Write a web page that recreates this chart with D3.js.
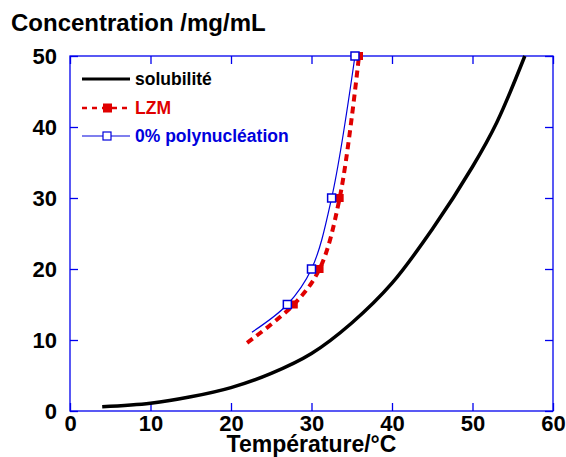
<!DOCTYPE html>
<html><head><meta charset="utf-8">
<script src="https://cdn.jsdelivr.net/npm/d3@7"></script>
<style>body{margin:0;background:#fff}svg{display:block}text{font-family:"Liberation Sans",Arial,sans-serif;font-weight:bold}</style>
</head><body><svg id="c" width="566" height="457"></svg>
<script>
// Data
const solTemp = [4, 10, 15, 20, 25, 30, 35, 40, 45, 50, 53, 56.5];
const solConc = [0.6, 1.1, 2.0, 3.3, 5.3, 8.1, 12.4, 18.0, 25.6, 34.4, 40.6, 50];
const lzmCurveTemp = [22.0, 27.8, 31.0, 33.5, 35.9];
const lzmCurveConc = [9.6, 15, 20, 30, 50];
const lzmTemp = [27.8, 31.0, 33.5, 35.9];
const lzmConc = [15, 20, 30, 50];
const polyCurveTemp = [22.6, 27.0, 30.0, 32.5, 35.4];
const polyCurveConc = [11.1, 15, 20, 30, 50];
const polyTemp = [27.0, 30.0, 32.5, 35.4];
const polyConc = [15, 20, 30, 50];
const xTicks = [0, 10, 20, 30, 40, 50, 60];
const yTicks = [0, 10, 20, 30, 40, 50];
const legendLabels = ["solubilité", "LZM", "0% polynucléation"];

const svg = d3.select("#c");
const x = d3.scaleLinear().domain([0, 60]).range([70, 553]);
const y = d3.scaleLinear().domain([0, 50]).range([411, 56]);
const axisColor = "#0000ee";
const red = "#e00000", blue = "#0000dd";

// frame
svg.append("rect").attr("x", x(0)).attr("y", y(50)).attr("width", x(60) - x(0)).attr("height", y(0) - y(50))
  .attr("fill", "none").attr("stroke", axisColor).attr("stroke-width", 1.3);

// axes (inward ticks, on all four sides)
const tl = 8;
const gB = svg.append("g").attr("transform", `translate(0,${y(0)})`)
  .call(d3.axisBottom(x).tickValues(xTicks).tickSizeInner(-tl).tickSizeOuter(0).tickPadding(4).tickFormat(d3.format("d")));
const gT = svg.append("g").attr("transform", `translate(0,${y(50)})`)
  .call(d3.axisTop(x).tickValues(xTicks).tickSizeInner(-tl).tickSizeOuter(0).tickFormat(""));
const gL = svg.append("g").attr("transform", `translate(${x(0)},0)`)
  .call(d3.axisLeft(y).tickValues(yTicks).tickSizeInner(-tl).tickSizeOuter(0).tickPadding(13).tickFormat(d3.format("d")));
const gR = svg.append("g").attr("transform", `translate(${x(60)},0)`)
  .call(d3.axisRight(y).tickValues(yTicks).tickSizeInner(-tl).tickSizeOuter(0).tickFormat(""));
[gB, gT, gL, gR].forEach(g => {
  g.select(".domain").remove();
  g.selectAll(".tick line").attr("stroke", axisColor).attr("stroke-width", 1.3);
  g.selectAll("text").attr("fill", "#000").style("font-size", "22px").style("font-family", '"Liberation Sans",Arial,sans-serif').style("font-weight", "bold");
});
gL.selectAll(".tick text").attr("dy", "0.34em");

// lines
const line = d3.line().x(d => x(d[0])).y(d => y(d[1]));
const sol = solTemp.map((t, i) => [t, solConc[i]]);
const lzmC = lzmCurveTemp.map((t, i) => [t, lzmCurveConc[i]]);
const polyC = polyCurveTemp.map((t, i) => [t, polyCurveConc[i]]);

svg.append("path").attr("d", line.curve(d3.curveCatmullRom.alpha(0.5))(sol))
  .attr("fill", "none").attr("stroke", "#000").attr("stroke-width", 3.5);
svg.append("path").attr("d", line.curve(d3.curveCatmullRom.alpha(0.5))(lzmC))
  .attr("fill", "none").attr("stroke", red).attr("stroke-width", 4).attr("stroke-dasharray", "7,5");
const ms = 8;
svg.selectAll(".lzm").data(lzmTemp.map((t, i) => [t, lzmConc[i]])).enter().append("rect")
  .attr("x", d => x(d[0]) - ms / 2).attr("y", d => y(d[1]) - ms / 2).attr("width", ms).attr("height", ms).attr("fill", red);
svg.append("path").attr("d", line.curve(d3.curveCatmullRom.alpha(0.5))(polyC))
  .attr("fill", "none").attr("stroke", blue).attr("stroke-width", 1.2);
svg.selectAll(".poly").data(polyTemp.map((t, i) => [t, polyConc[i]])).enter().append("rect")
  .attr("x", d => x(d[0]) - ms / 2).attr("y", d => y(d[1]) - ms / 2).attr("width", ms).attr("height", ms)
  .attr("fill", "#fff").attr("stroke", blue).attr("stroke-width", 1.5);

// legend
const lg = svg.append("g");
const lx0 = 82, lx1 = 130, ly = [79, 108, 136];
lg.append("line").attr("x1", lx0).attr("x2", lx1).attr("y1", ly[0]).attr("y2", ly[0]).attr("stroke", "#000").attr("stroke-width", 3);
lg.append("line").attr("x1", lx0).attr("x2", lx1).attr("y1", ly[1]).attr("y2", ly[1]).attr("stroke", red).attr("stroke-width", 2.5).attr("stroke-dasharray", "5,5");
lg.append("rect").attr("x", 107.5 - 4.5).attr("y", ly[1] - 4.5).attr("width", 9).attr("height", 9).attr("fill", red);
lg.append("line").attr("x1", lx0).attr("x2", lx1).attr("y1", ly[2]).attr("y2", ly[2]).attr("stroke", blue).attr("stroke-width", 1.2);
lg.append("rect").attr("x", 107 - 4).attr("y", ly[2] - 4).attr("width", 8).attr("height", 8).attr("fill", "#fff").attr("stroke", blue).attr("stroke-width", 1.2);
const lcol = ["#000", red, blue];
legendLabels.forEach((t, i) => {
  lg.append("text").attr("x", 135).attr("y", ly[i] + 6).attr("fill", lcol[i]).style("font-size", "17.5px").text(t);
});

// titles
svg.append("text").attr("x", 11).attr("y", 31).style("font-size", "24px").text("Concentration /mg/mL");
svg.append("text").attr("x", x(30)).attr("y", 452).attr("text-anchor", "middle").style("font-size", "23px").text("Température/°C");
</script></body></html>
